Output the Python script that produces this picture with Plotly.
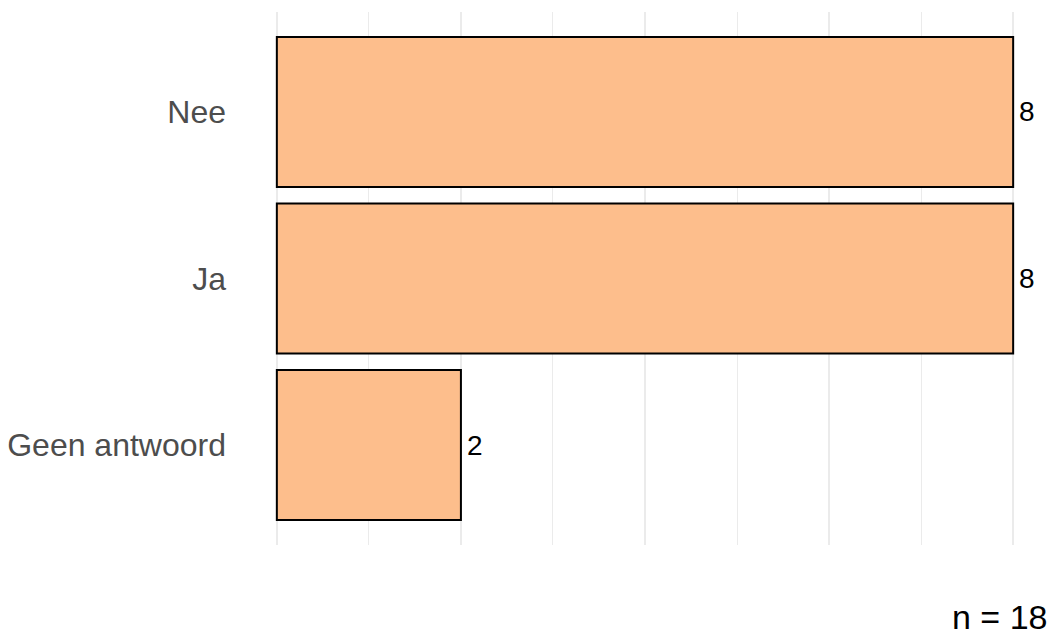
import plotly.graph_objects as go

# Answer counts, drawn bottom-to-top
categories = ["Geen antwoord", "Ja", "Nee"]
counts = [2, 8, 8]
total_n = 18

W, H = 1051, 637
x_lo, x_hi = -0.02, 8.02
px_per_unit = 92
left = 275
plot_w = (x_hi - x_lo) * px_per_unit
right = W - left - plot_w
top, bottom = 12, 92
plot_h = H - top - bottom

FONT = "Liberation Sans, Arial, sans-serif"

fig = go.Figure(
    go.Bar(
        y=categories,
        x=counts,
        orientation="h",
        width=0.9,
        marker=dict(color="#FDBE8C", line=dict(color="black", width=2)),
        hoverinfo="skip",
    )
)

# Count labels just to the right of each bar end
for cat, c in zip(categories, counts):
    fig.add_annotation(
        x=c,
        y=cat,
        xref="x",
        yref="y",
        text=str(c),
        showarrow=False,
        xanchor="left",
        yanchor="middle",
        xshift=4,
        font=dict(family=FONT, size=28, color="black"),
    )

# Sample-size caption in the bottom-right corner, kept inside the page
fig.add_annotation(
    text=f"n = {total_n}",
    xref="paper",
    yref="paper",
    x=(W - 3 - left) / plot_w,
    y=(top + plot_h - H) / plot_h,
    xanchor="right",
    yanchor="bottom",
    borderpad=0,
    showarrow=False,
    font=dict(family=FONT, size=34, color="black"),
)

fig.update_layout(
    width=W,
    height=H,
    margin=dict(l=left, r=right, t=top, b=bottom, autoexpand=False),
    plot_bgcolor="white",
    paper_bgcolor="white",
    showlegend=False,
    font=dict(family=FONT),
    xaxis=dict(
        range=[x_lo, x_hi],
        dtick=2,
        tick0=0,
        showgrid=True,
        gridcolor="#EBEBEB",
        gridwidth=2,
        minor=dict(dtick=1, tick0=0, showgrid=True, gridcolor="#EBEBEB", gridwidth=1),
        showticklabels=False,
        zeroline=False,
        showline=False,
        ticks="",
    ),
    yaxis=dict(
        range=[-0.6, 2.6],
        showgrid=False,
        zeroline=False,
        showline=False,
        ticks="",
        tickfont=dict(size=32, color="#4D4D4D"),
        ticklabelstandoff=48,
    ),
)

fig.write_html("out.html")
